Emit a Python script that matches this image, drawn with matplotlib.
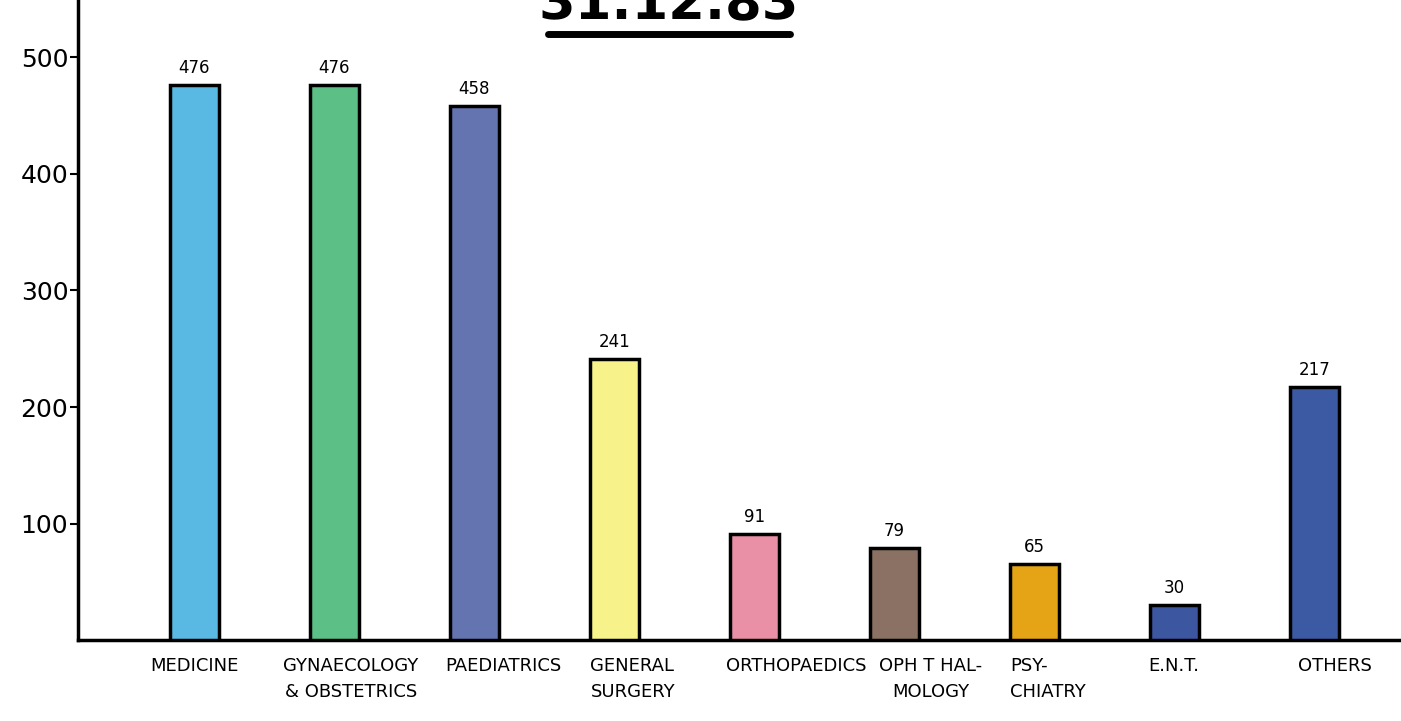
import matplotlib.pyplot as plt
from matplotlib.lines import Line2D
import numpy as np

departments = ['MEDICINE', 'GYNAECOLOGY\n& OBSTETRICS', 'PAEDIATRICS', 'GENERAL\nSURGERY',
               'ORTHOPAEDICS', 'OPH T HAL-\nMOLOGY', 'PSY-\nCHIATRY', 'E.N.T.', 'OTHERS']
beds = [476, 476, 458, 241, 91, 79, 65, 30, 217]
colors = ['#5ab9e3', '#5cbf85', '#6474b0', '#f7f28a', '#e98fa6',
          '#8a7163', '#e4a415', '#3c57a0', '#3c5aa3']
yticks = [100, 200, 300, 400, 500]

# hand-lettered labels sit a little off the bar centres
label_dx = [0.0, 0.12, 0.21, -0.17, 0.30, 0.26, -0.12, 0.0, 0.15]
label_ha = ['center', 'center', 'center', 'left', 'center', 'center', 'left', 'center', 'center']

fig = plt.figure(figsize=(14.01, 7.21), dpi=100)
ax = fig.add_axes([0.0557, 0.112, 0.9443, 0.888])

x = np.arange(len(beds))
ax.bar(x, beds, width=0.35, color=colors, edgecolor='black', linewidth=2.5, zorder=3)

for xi, v in zip(x, beds):
    ax.annotate(str(v), (xi, v), xytext=(0, 6), textcoords='offset points',
                ha='center', va='bottom', fontsize=12)

for xi, name, dx, ha in zip(x, departments, label_dx, label_ha):
    xpos = xi + dx if ha == 'center' else xi - 0.17
    ax.annotate(name, (xpos, 0), xycoords=('data', 'axes fraction'),
                xytext=(0, -12), textcoords='offset points',
                ha=ha, va='top', fontsize=13, linespacing=1.55)

ax.set_xlim(-0.83, 8.62)
ax.set_ylim(0, 549)
ax.set_xticks([])
ax.set_yticks(yticks)
ax.set_yticklabels([str(t) for t in yticks], fontsize=18)
ax.tick_params(axis='y', length=6, width=1.5, pad=1)

for side in ['top', 'right']:
    ax.spines[side].set_visible(False)
for side in ['left', 'bottom']:
    ax.spines[side].set_linewidth(2.5)

# date heading, running off the top edge
fig.text(0.477, 0.958, '31.12.83', ha='center', va='bottom', fontsize=38,
         fontweight='bold')
fig.add_artist(Line2D([0.391, 0.564], [0.953, 0.953], color='black', linewidth=5,
                      solid_capstyle='round'))

fig.savefig('out.png', dpi=100)
